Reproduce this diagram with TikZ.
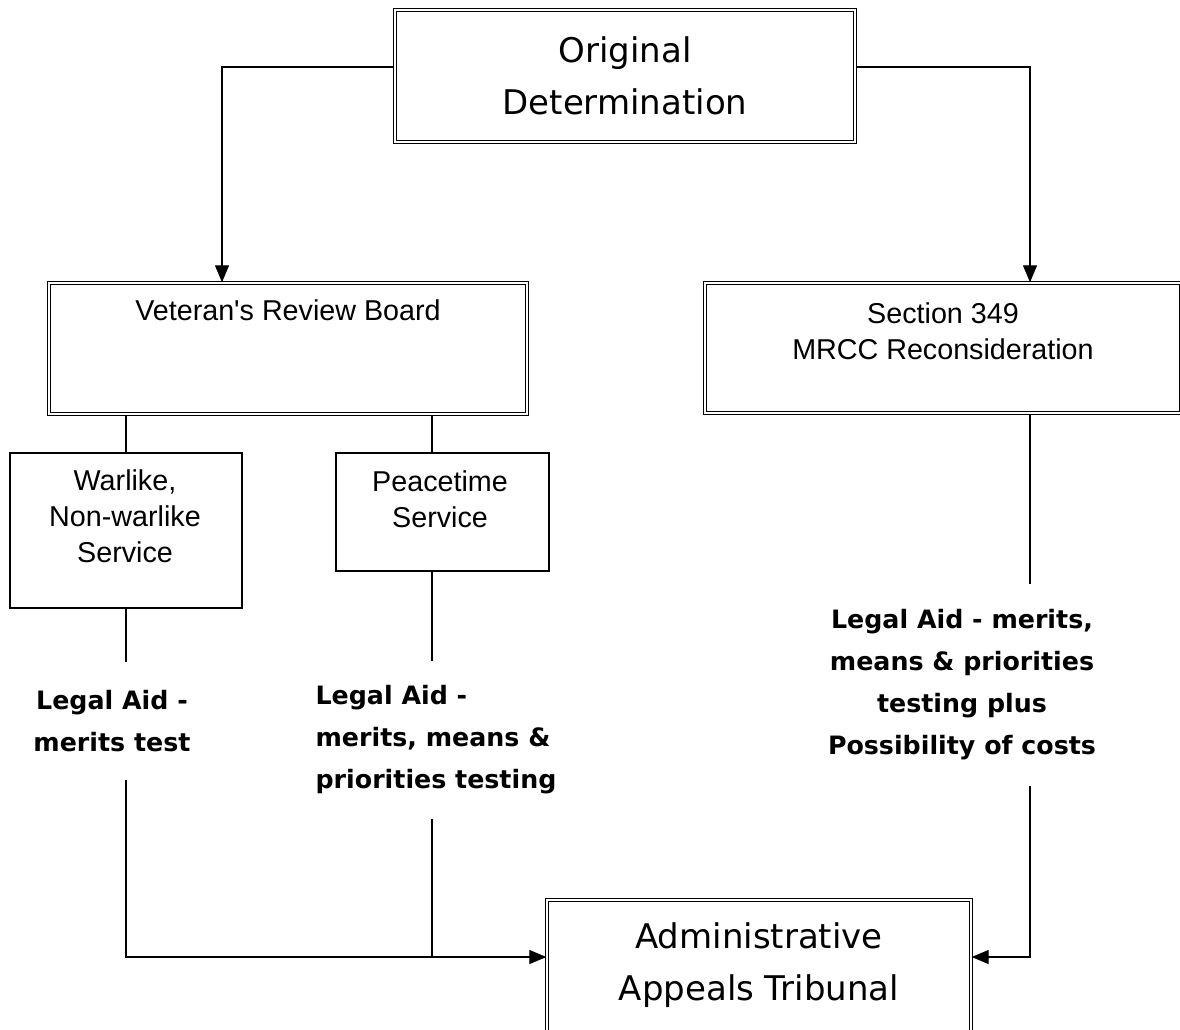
\documentclass[tikz,border=0pt]{standalone}
\usepackage{fontspec}
\setmainfont{Liberation Sans}[Ligatures=TeXOff]
\newfontfamily\comicfont{DejaVu Sans}
\usetikzlibrary{arrows.meta}
\begin{document}
\begin{tikzpicture}[x=1pt,y=-1pt,
  dbox/.style={draw, line width=1.4pt, double, double distance=1.8pt, inner sep=0pt},
  sbox/.style={draw, line width=1.3pt, inner sep=0pt},
  bigtxt/.style={font=\comicfont\fontsize{34}{52}\selectfont, align=center},
  plaintxt/.style={font=\fontsize{28.7}{36}\selectfont, align=center},
  labtxt/.style={font=\comicfont\bfseries\fontsize{25.3}{42}\selectfont, inner sep=0pt},
  conn/.style={line width=1.3pt},
  arr/.style={conn, -{Triangle[length=17pt,width=14pt]}}]
\clip (0,0) rectangle (1180,1029);
\fill[white] (0,0) rectangle (1180,1029);
% boxes
\node[dbox, minimum width=460pt, minimum height=132pt] (orig) at (625,76) {};
\node[bigtxt] (origt) at (625,76) {Original\\Determination};
\node[dbox, minimum width=478pt, minimum height=131pt] (vrb) at (288,348.5) {};
\node[plaintxt] (vrbt) at (288,310) {Veteran's Review Board};
\node[dbox, minimum width=476pt, minimum height=130pt] (sec) at (943,348) {};
\node[plaintxt] (sect) at (943,331) {Section 349\\MRCC Reconsideration};
\node[sbox, minimum width=232pt, minimum height=155pt] (wl) at (126,530.5) {};
\node[plaintxt] (wlt) at (125,516) {Warlike,\\Non-warlike\\Service};
\node[sbox, minimum width=213pt, minimum height=118pt] (pt) at (442.5,512) {};
\node[plaintxt] (ptt) at (440,499) {Peacetime\\Service};
\node[dbox, minimum width=424pt, minimum height=145pt] (aat) at (759,972.5) {};
\node[bigtxt] (aatt) at (759,965) {Administrative\\Appeals Tribunal};
% labels
\node[labtxt, align=center, minimum height=118pt] (lab1) at (112,721) {Legal Aid -\\merits test};
\node[labtxt, align=left, minimum height=157pt] (lab2) at (436,740) {Legal Aid -\\merits, means \&\\priorities testing};
\node[labtxt, align=center, minimum height=202pt] (lab3) at (962,685) {Legal Aid - merits,\\means \& priorities\\testing plus\\Possibility of costs};
% helper coordinates
\coordinate (yl) at (0,67);
\coordinate (yb) at (0,957);
\coordinate (cl) at (222,0);
\coordinate (cr) at (1030,0);
\coordinate (cp) at (432,0);
% connectors
\draw[arr] (orig.west |- yl) -| (cl |- vrb.north);
\draw[arr] (orig.east |- yl) -| (cr |- sec.north);
\draw[conn] (wl.north |- vrb.south) -- (wl.north);
\draw[conn] (cp |- vrb.south) -- (cp |- pt.north);
\draw[conn] (wl.south) -- (wl.south |- lab1.north);
\draw[arr] (wl.south |- lab1.south) |- (aat.west |- yb);
\draw[conn] (cp |- pt.south) -- (cp |- lab2.north);
\draw[conn] (cp |- lab2.south) -- (cp |- yb);
\draw[conn] (cr |- sec.south) -- (cr |- lab3.north);
\draw[arr] (cr |- lab3.south) |- (aat.east |- yb);
\end{tikzpicture}
\end{document}
